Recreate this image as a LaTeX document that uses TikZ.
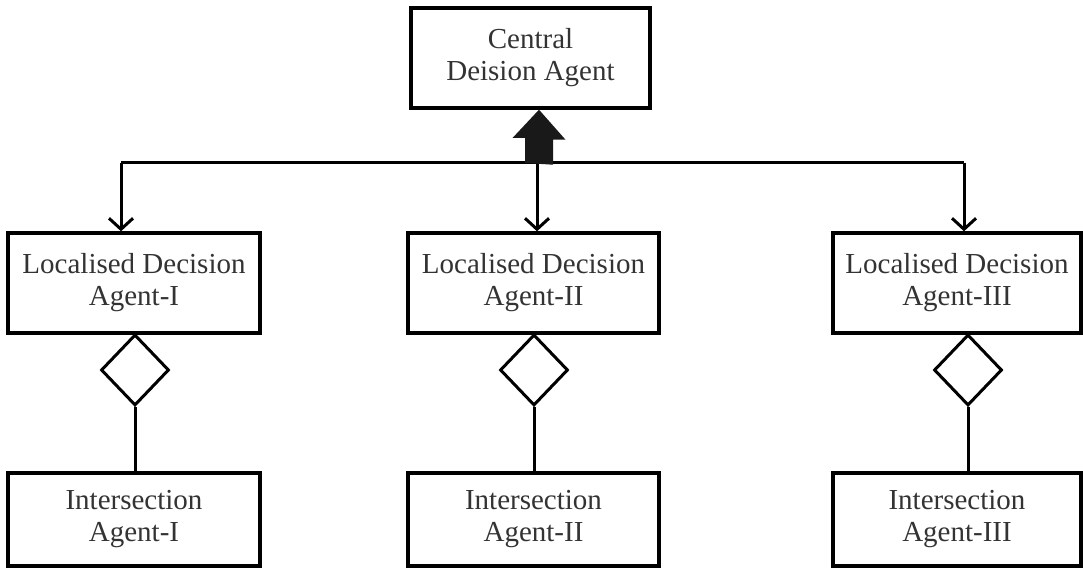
\documentclass[tikz,border=0pt]{standalone}
\usepackage{fontspec}
\setmainfont{Liberation Serif}
\usetikzlibrary{shapes.geometric,arrows.meta}
\begin{document}
\begin{tikzpicture}[x=1pt,y=-1pt,
  box/.style={draw, line width=3.4pt, inner sep=0pt, align=center,
    font=\fontsize{29}{32}\selectfont, text=black!80},
  dia/.style={draw, line width=3pt, shape=diamond, inner sep=0pt,
    minimum width=68pt, minimum height=71pt},
  link/.style={line width=3pt},
  arr/.style={line width=3pt, -{Straight Barb[length=11pt,width=24pt,line width=3pt]}}]
\useasboundingbox (0,0) rectangle (1083,572);
% top
\node[box, minimum width=239pt, minimum height=100pt] (C) at (530.5,58) {Central\\Deision Agent};
% localised
\node[box, minimum width=252pt, minimum height=100pt] (L1) at (134,283) {Localised Decision\\Agent-I};
\node[box, minimum width=251pt, minimum height=100pt] (L2) at (533.5,283) {Localised Decision\\Agent-II};
\node[box, minimum width=248pt, minimum height=100pt] (L3) at (957,283) {Localised Decision\\Agent-III};
% intersection
\node[box, minimum width=252pt, minimum height=93pt] (I1) at (134,519.5) {Intersection\\Agent-I};
\node[box, minimum width=251pt, minimum height=93pt] (I2) at (533.5,519.5) {Intersection\\Agent-II};
\node[box, minimum width=248pt, minimum height=93pt] (I3) at (957,519.5) {Intersection\\Agent-III};
% diamonds
\node[dia, anchor=north] (D1) at (135,333) {};
\node[dia, anchor=north] (D2) at (534,333) {};
\node[dia, anchor=north] (D3) at (968,333) {};
% distribution line
\coordinate (jl) at (121,163);
\coordinate (jm) at (537,163);
\coordinate (jr) at (964,163);
\draw[link] (jl) -- (jr);
\draw[arr] (jl) -- (jl |- L1.north);
\draw[arr] (jm) -- (jm |- L2.north);
\draw[arr] (jr) -- (jr |- L3.north);
% big block arrow to central
\coordinate (bt) at (539,163);
\fill[black!90] (bt) ++(-14,0) -- ++(0,-25) -- ++(-12.5,0) -- (bt |- C.south) -- ++(26.5,30) -- ++(-12.5,0) -- ++(0,25) -- cycle;
% diamond links
\draw[link] (D1.south) -- (D1.south |- I1.north);
\draw[link] (D2.south) -- (D2.south |- I2.north);
\draw[link] (D3.south) -- (D3.south |- I3.north);
\end{tikzpicture}
\end{document}
